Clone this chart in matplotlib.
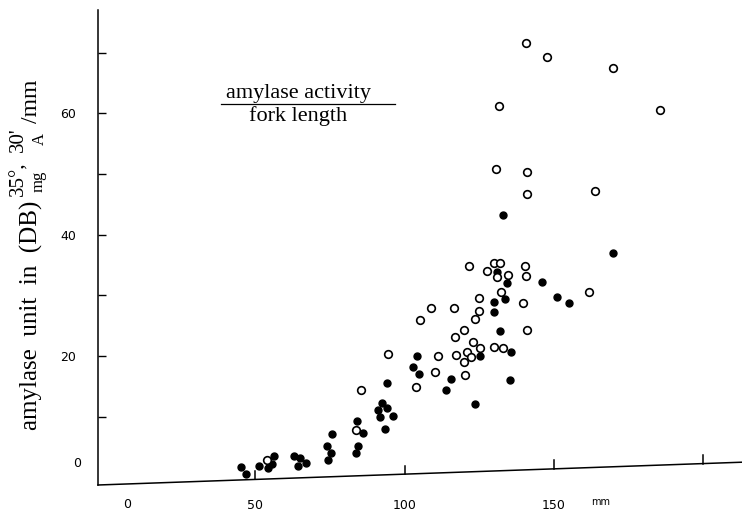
import matplotlib
matplotlib.use('Agg')
import matplotlib.pyplot as plt
from matplotlib.lines import Line2D

plt.rcParams['font.family'] = 'Liberation Serif'

# fork length (mm) and amylase activity per fork length
open_x = [140.6, 147.7, 169.8, 131.5, 185.6, 130.5, 140.9, 140.9, 163.8, 121.6,
          127.5, 130.0, 132.0, 130.9, 134.5, 140.3, 140.8, 132.4, 124.8, 139.7,
          161.6, 108.7, 116.7, 124.8, 105.0, 123.7, 120.0, 116.8, 140.9, 122.9,
          125.4, 120.8, 130.1, 132.9, 94.3, 111.3, 117.1, 122.2, 119.8, 110.3,
          120.2, 103.9, 85.3, 83.8, 53.9]
open_y = [71.5, 69.2, 67.4, 61.2, 60.5, 50.8, 50.3, 46.7, 47.2, 34.9,
          34.0, 35.3, 35.4, 33.0, 33.4, 34.9, 33.2, 30.6, 29.6, 28.8,
          30.5, 27.9, 27.9, 27.4, 25.9, 26.1, 24.4, 23.2, 24.3, 22.4,
          21.4, 20.7, 21.6, 21.4, 20.4, 20.0, 20.2, 19.8, 19.0, 17.4,
          16.9, 14.9, 14.4, 7.9, 2.9]

filled_x = [132.9, 169.8, 130.9, 145.9, 134.2, 133.7, 130.0, 150.9, 154.9, 130.0,
            131.9, 135.7, 104.0, 125.3, 102.9, 104.8, 115.4, 135.3, 113.8, 94.1,
            123.7, 92.5, 94.0, 91.2, 96.0, 91.8, 93.5, 84.2, 86.0, 84.5,
            83.6, 75.7, 74.1, 75.4, 74.3, 62.9, 65.0, 66.9, 64.3, 56.1,
            55.6, 54.3, 51.1, 45.2, 47.0]
filled_y = [43.2, 37.0, 33.9, 32.3, 32.1, 29.5, 28.9, 29.8, 28.8, 27.3,
            24.2, 20.7, 20.0, 20.0, 18.3, 17.1, 16.3, 16.1, 14.4, 15.6,
            12.1, 12.3, 11.4, 11.1, 10.2, 10.0, 8.1, 9.4, 7.4, 5.3,
            4.1, 7.2, 5.2, 4.1, 2.9, 3.5, 3.2, 2.5, 1.9, 3.5,
            2.3, 1.6, 2.0, 1.7, 0.6]

x_ticks = [50, 100, 150, 200]
x_labels = ['50', '100', '150', '']
y_ticks = [10, 20, 30, 40, 50, 60, 70]
y_labels = ['', '20', '', '40', '', '60', '']

W, H = 742, 514
fig = plt.figure(figsize=(W / 100, H / 100), dpi=100)
ax = fig.add_axes([98 / W, 29 / H, 644 / W, 475 / H])

ax.plot(filled_x, filled_y, 'o', color='black', markersize=5, zorder=3)
ax.plot(open_x, open_y, 'o', markerfacecolor='white', markeredgecolor='black',
        markersize=5.5, markeredgewidth=1.2, zorder=3)

ax.set_xlim(-2.7, 213)
ax.set_ylim(-1.2, 77)

for s in ['top', 'right', 'bottom']:
    ax.spines[s].set_visible(False)
ax.spines['left'].set_linewidth(1.1)

# the scanned x axis runs slightly uphill
skew = 0.048
xt = ax.get_xaxis_transform()
x0, x1 = ax.get_xlim()
ax.plot([x0, x1], [0, skew], color='black', lw=1.1, transform=xt, clip_on=False)
for t in x_ticks:
    yb = skew * (t - x0) / (x1 - x0)
    ax.plot([t, t], [yb, yb + 0.018], color='black', lw=1.1, transform=xt, clip_on=False)

ax.set_xticks(x_ticks)
ax.set_xticklabels(x_labels, fontfamily='DejaVu Sans', fontsize=9)
ax.tick_params(axis='x', length=0, pad=10)
ax.set_yticks(y_ticks)
ax.set_yticklabels(y_labels, fontfamily='DejaVu Sans', fontsize=9)
ax.tick_params(axis='y', direction='in', length=6, width=1, pad=16)

ax.text(7, -0.042, '0', transform=xt, ha='center', va='center',
        fontfamily='DejaVu Sans', fontsize=9)
ax.text(165.8, -0.035, 'mm', transform=xt, ha='center', va='center',
        fontfamily='DejaVu Sans', fontsize=7)
ax.text(-0.033, 2.4, '0', transform=ax.get_yaxis_transform(), ha='center',
        va='center', fontfamily='DejaVu Sans', fontsize=9)


def ftext(px, py, s, size, **kw):
    # text placed in reference pixel coordinates, rotated like the y label
    fig.text(px / W, 1 - py / H, s, fontsize=size, rotation=90,
             rotation_mode='anchor', ha='left', va='baseline', **kw)


# y axis label with its stacked units
ftext(38, 430, 'amylase  unit  in  (DB)', 18)
ftext(23, 196, "35°,", 15)
ftext(23, 152, "30'", 15)
ftext(43, 192, 'mg', 12)
ftext(44, 145, 'A', 12)
ftext(37, 123, '/mm', 17)

# fraction legend
fig.text(298 / W, 1 - 98 / H, 'amylase activity', ha='center', va='baseline',
         fontsize=16)
fig.add_artist(Line2D([221 / W, 395 / W], [1 - 104 / H, 1 - 104 / H],
                      color='black', lw=0.9, transform=fig.transFigure))
fig.text(298 / W, 1 - 121 / H, 'fork length', ha='center', va='baseline',
         fontsize=16)

fig.savefig('out.png', dpi=100)
